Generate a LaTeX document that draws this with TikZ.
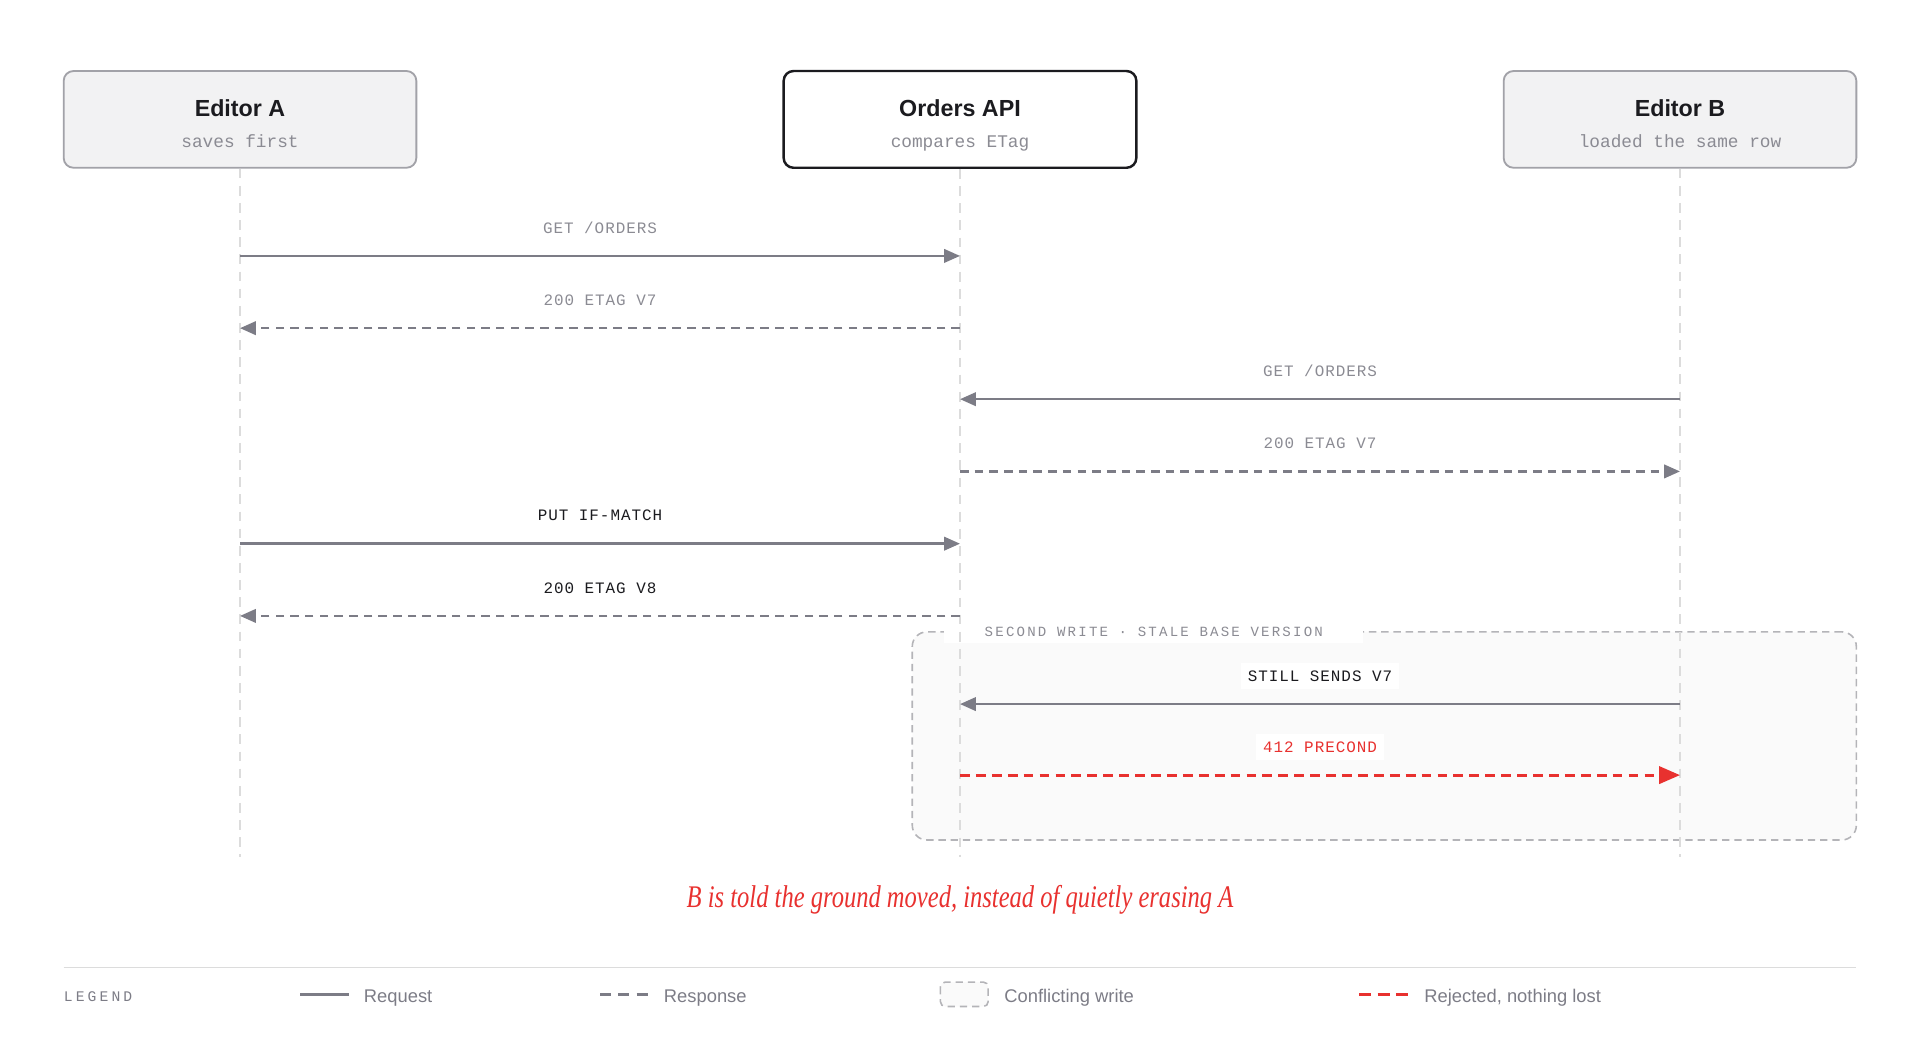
\documentclass[tikz,border=0pt]{standalone}
\usepackage{fontspec}
\setmainfont{Liberation Sans}
\newfontfamily\monofont{Liberation Mono}
\newfontfamily\capfont[FakeStretch=0.78]{Liberation Serif Italic}
\usetikzlibrary{arrows.meta}
\definecolor{inkgray}{HTML}{7C7C86}
\definecolor{labelgray}{HTML}{8B8B93}
\definecolor{inkdark}{HTML}{1B1B1F}
\definecolor{boxfill}{HTML}{F2F2F3}
\definecolor{boxline}{HTML}{A2A2A8}
\definecolor{lifegray}{HTML}{DCDCDC}
\definecolor{groupfill}{HTML}{FAFAFA}
\definecolor{groupline}{HTML}{B4B4B8}
\definecolor{warnred}{HTML}{E8312F}
\begin{document}
\begin{tikzpicture}[x=1pt, y=-1pt,
    actor/.style={draw=boxline, fill=boxfill, line width=1.5pt, rounded corners=8pt,
      minimum width=288pt, minimum height=79pt, inner sep=0pt},
    server/.style={actor, draw=inkdark, fill=white, line width=2pt},
    title/.style={font=\fontsize{19}{22}\selectfont\bfseries, text=inkdark, anchor=base, inner sep=0pt},
    sub/.style={font=\monofont\fontsize{14.5}{17}\selectfont, text=labelgray, anchor=base, inner sep=0pt},
    life/.style={draw=lifegray, line width=1pt, dash pattern=on 8pt off 6pt},
    req/.style={draw=inkgray, line width=2pt, -{Triangle[length=13pt,width=11pt]}},
    resp/.style={req, dash pattern=on 7pt off 5pt},
    rej/.style={draw=warnred, line width=2.5pt, dash pattern=on 8pt off 5pt,
      -{Triangle[length=17pt,width=14pt]}},
    lbl/.style={font=\monofont\fontsize{13}{15}\selectfont\addfontfeature{LetterSpace=6},
      text=labelgray, midway, yshift=23pt, inner xsep=6pt, inner ysep=6pt},
    group/.style={draw=groupline, fill=groupfill, line width=1.3pt, rounded corners=12pt,
      dash pattern=on 6pt off 4pt, minimum width=771pt, minimum height=170pt},
    grouplbl/.style={font=\monofont\fontsize{11.5}{14}\selectfont\addfontfeature{LetterSpace=15.6},
      text=labelgray, fill=white, inner xsep=33pt, inner ysep=5pt, anchor=west},
    legtext/.style={font=\fontsize{15}{18}\selectfont, text=inkgray, anchor=base west, inner sep=0pt},
    caption/.style={font=\capfont\fontsize{25.7}{30}\selectfont, text=warnred, anchor=base, inner sep=0pt}]
  \useasboundingbox (0,0) rectangle (1568,864);

  % conflicting write group
  \node[group] (conflict) at (1130.5,601) {};
  \node[grouplbl] (conflictlbl) at (771,516) {SECOND WRITE · STALE BASE VERSION};

  % participants and lifelines
  \foreach \n/\x/\t/\s/\st in {edA/196/Editor A/saves first/actor,
      api/784/Orders API/compares ETag/server,
      edB/1372/Editor B/loaded the same row/actor} {
    \node[\st] (\n) at (\x,97.5) {};
    \node[title] (\n-t) at (\x,94.8) {\t};
    \node[sub] (\n-s) at (\x,120.5) {\s};
    \coordinate (\n-end) at (\x,700);
    \draw[life] (\n) -- (\n-end);
  }

  % message rows
  \foreach \r/\y in {1/209,2/268,3/326,4/385,5/444,6/503,7/575,8/633} {
    \coordinate (A\r) at (196,\y);
    \coordinate (P\r) at (784,\y);
    \coordinate (B\r) at (1372,\y);
  }
  \draw[req] (A1) -- node[lbl] (m1) {GET /ORDERS} (P1);
  \draw[resp] (P2) -- node[lbl] (m2) {200 ETAG V7} (A2);
  \draw[req] (B3) -- node[lbl] (m3) {GET /ORDERS} (P3);
  \draw[resp] (P4) -- node[lbl] (m4) {200 ETAG V7} (B4);
  \draw[req] (A5) -- node[lbl, text=inkdark] (m5) {PUT IF-MATCH} (P5);
  \draw[resp] (P6) -- node[lbl, text=inkdark] (m6) {200 ETAG V8} (A6);
  \draw[req] (B7) -- node[lbl, text=inkdark, fill=white] (m7) {STILL SENDS V7} (P7);
  \draw[rej] (P8) -- node[lbl, text=warnred, fill=white] (m8) {412 PRECOND} (B8);

  \node[caption] (moral) at (784,741) {B is told the ground moved, instead of quietly erasing A};

  % legend
  \draw[draw=lifegray, line width=1pt] (52,790) -- (1516,790);
  \node[font=\monofont\fontsize{12}{14}\selectfont\addfontfeature{LetterSpace=21},
    text=inkgray, anchor=base west, inner sep=0pt] (leg) at (52,817.5) {LEGEND};
  \draw[draw=inkgray, line width=2pt] (245,812) -- (285,812);
  \node[legtext] (legreq) at (297,818.5) {Request};
  \draw[draw=inkgray, line width=2pt, dash pattern=on 9pt off 6pt] (490,812) -- (529,812);
  \node[legtext] (legresp) at (542,818.5) {Response};
  \draw[draw=groupline, fill=groupfill, line width=1.3pt, rounded corners=4pt,
    dash pattern=on 6pt off 4pt] (768,802) rectangle (807,822);
  \node[legtext] (legconf) at (820,818.5) {Conflicting write};
  \draw[draw=warnred, line width=2.5pt, dash pattern=on 10pt off 5pt] (1110,812) -- (1150,812);
  \node[legtext] (legrej) at (1163,818.5) {Rejected, nothing lost};
\end{tikzpicture}
\end{document}
